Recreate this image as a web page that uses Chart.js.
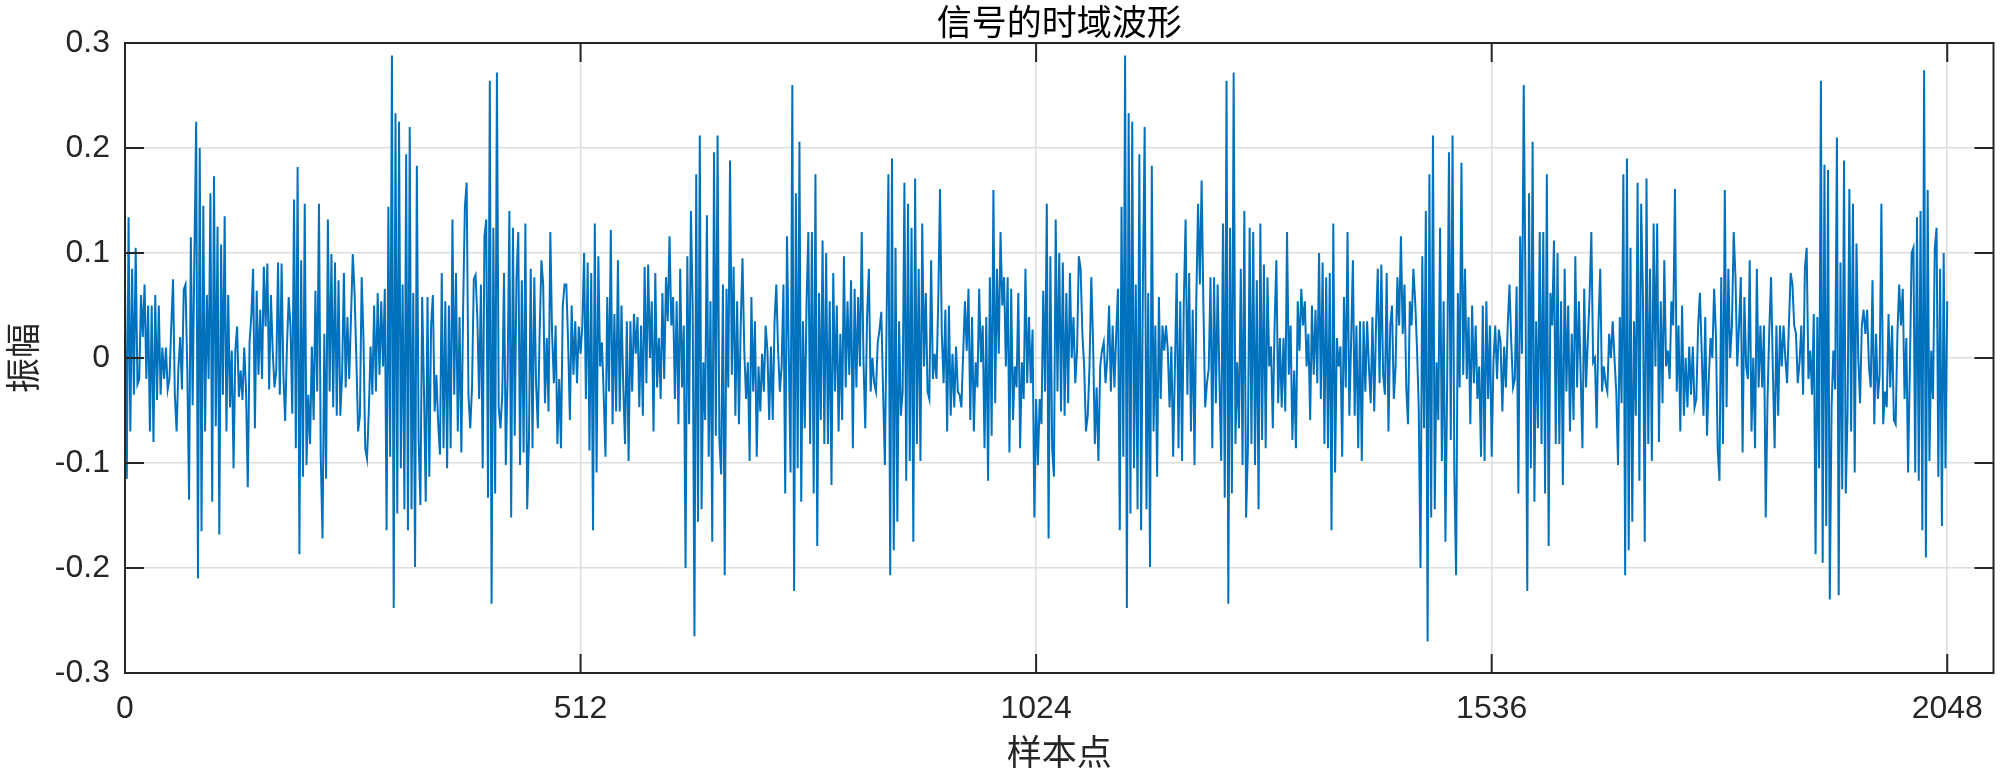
<!DOCTYPE html>
<html>
<head>
<meta charset="utf-8">
<script src="https://cdn.jsdelivr.net/npm/chart.js@4.4.0/dist/chart.umd.min.js"></script>
<style>
  html, body { margin: 0; padding: 0; background: #fff; }
  canvas { display: block; }
</style>
</head>
<body>
<canvas id="chart" width="2000" height="780"></canvas>
<script>
// 文本
const chartTitle = '信号的时域波形';
const xLabel = '样本点';
const yLabel = '振幅';

// 坐标轴
const xTicks = [0, 512, 1024, 1536, 2048];
const yTicks = [-0.3, -0.2, -0.1, 0, 0.1, 0.2, 0.3];
const xMax = 2100;

// 振幅 (每 2 个样本点读一个值)
const sampleStep = 2;
const amplitude = [
  .07,-.115,.134,-.07,.085,-.035,.105,-.025,-.02,.06,
  .02,.07,-.02,.05,-.07,.05,-.08,.06,-.04,.05,
  -.035,.01,-.02,.01,-.03,-.02,.03,.075,-.035,-.07,
  -.01,.02,-.03,.065,.07,-.01,-.135,.115,-.045,.1,
  .225,-.21,.2,-.165,.145,-.07,.06,-.02,.157,-.137,
  .173,-.065,.125,-.168,.108,-.035,.135,-.07,.06,-.047,
  .007,-.105,.007,.03,-.037,-.012,-.04,.01,-.03,-.123,
  .015,.04,.085,-.067,.064,-.016,.046,-.02,.087,.03,
  .09,-.03,.06,
  .007,-.028,-.012,.091,-.035,.09,-.016,-.06,.011,.058,
  .03,-.053,.151,-.086,.182,-.187,.093,-.113,.147,-.102,
  -.035,-.082,.011,-.059,.064,-.032,.147,-.094,-.172,.023,
  -.115,.132,-.032,.099,-.047,.091,-.055,.074,-.055,-.016,
  .081,-.028,.039,-.02,.039,.099,.062,0,-.07,-.055,
  .077,.019,-.086,-.096,-.051,.011,-.035,.05,-.032,.062,
  -.016,.054,-.008,.066,-.164,.144,-.094,.288,-.238,.233,
  -.148,.225,-.105,.07,-.144,.194,-.164,.22,-.144,.062,
  -.199,.183,-.078,-.14,.058,-.03,
  -.137,.058,-.113,.031,.06,-.051,-.016,-.063,-.092,.081,
  -.086,.054,-.105,.05,-.086,.132,-.035,.081,-.07,.039,
  -.09,.046,.144,.167,-.035,-.067,-.028,.075,.079,.039,
  -.039,.07,-.105,.116,.132,-.133,.264,-.234,.124,-.129,
  .272,-.047,-.067,-.035,.081,-.102,-.016,.14,-.152,.124,
  -.074,.077,.12,-.102,.074,-.09,.128,-.144,-.078,.085,
  -.086,.077,-.024,-.067,.023,.093,.07,-.043,.019,-.051,
  .12,.023,-.024,.031,-.082,-.02,-.086,.05,.07,.07,
  .015,-.059,.05,-.016,.035,-.024,.03,
  .004,.031,.1,-.039,.091,-.088,.081,-.164,.128,-.109,
  .097,-.008,.015,-.035,-.094,.058,-.032,.122,-.063,.042,
  -.051,.093,-.051,.05,-.028,-.082,.035,-.098,.035,-.032,
  .042,.004,.039,-.047,.031,-.055,.087,-.024,.089,0,
  .054,-.07,.081,-.028,.019,-.039,.062,-.02,.077,.035,
  .116,.031,.058,-.039,.054,-.063,.085,-.028,.031,-.2,
  .097,-.063,.14,.05,-.265,.175,-.156,.212,-.144,-.004,
  -.059,.136,-.094,.054,-.175,.196,-.074,.212,-.078,-.111,
  .07,-.207,.066,-.028,.188,-.016,
  .087,-.055,.054,-.063,.031,.095,.007,-.039,-.004,-.098,
  .058,-.032,.035,-.094,-.008,-.051,.004,-.032,.031,.007,
  -.059,.011,-.059,.035,.07,.007,-.032,-.008,.07,-.129,
  .116,.004,-.109,.26,-.222,.157,-.105,.206,-.137,.035,
  -.067,.054,.12,-.082,.12,-.129,.175,-.179,.062,-.059,
  .112,-.082,.1,-.082,.054,-.121,.081,-.032,.05,-.07,
  .023,-.059,.097,-.028,.054,-.016,.074,-.086,.066,-.028,
  .058,-.008,.12,-.004,-.067,.039,.085,-.032,0,-.024,
  -.032,.015,.027,.044,-.032,-.102,.039,
  .175,-.207,.19,-.183,.105,-.156,.035,-.055,-.032,.167,
  -.117,.147,-.098,.124,-.175,.171,-.082,.085,-.098,.128,
  -.008,.062,-.032,-.039,.093,-.02,.004,-.02,.054,.161,
  .023,-.024,.046,-.07,.05,-.055,.004,-.047,.011,-.032,
  -.035,-.047,.004,.054,.007,.066,-.059,.039,-.07,-.004,
  -.028,.066,-.004,.031,-.086,.039,-.117,.077,-.074,.16,
  -.043,.085,.004,.12,.05,.077,-.008,.077,-.09,.066,
  -.059,-.008,-.028,.062,-.086,-.004,-.039,.085,-.024,.039,
  -.024,.027,-.152,-.039,-.102,-.039,
  -.063,.064,-.032,.147,-.172,.097,-.086,-.113,.132,-.032,
  .1,-.051,.091,-.055,.062,-.043,.081,0,.039,-.024,
  .007,.097,.085,.023,-.008,-.07,-.055,-.008,.077,.015,
  -.082,-.028,-.098,-.008,.007,.015,-.024,0,.05,-.032,
  .031,-.028,.023,.066,-.164,.144,-.094,.288,-.238,.233,
  -.148,.225,-.105,.07,-.144,.194,-.164,.07,.22,-.144,
  .062,-.199,.183,-.07,.031,-.113,.058,-.039,.031,.007,
  .031,.007,-.047,.011,-.094,-.008,.081,-.086,.054,-.098,
  .054,.132,-.035,.081,-.07,.046,-.102,
  .054,.147,.07,.169,.05,-.047,-.024,-.01,.077,-.086,
  .077,-.043,.07,-.02,-.098,.128,-.133,.264,-.234,.124,
  -.129,.272,-.082,-.004,-.067,.085,-.102,.14,-.152,-.086,
  .124,-.082,.12,-.102,.074,-.144,.128,-.078,.089,-.086,
  .077,-.008,.011,-.067,.031,.093,-.043,.019,-.047,.019,
  -.051,.12,-.016,.031,-.078,-.012,-.086,.054,.007,.066,
  .031,.054,-.008,.023,-.059,.05,-.016,.046,-.024,.1,
  -.039,.091,-.082,.077,-.086,.081,-.164,.128,-.109,.019,
  -.008,.011,-.094,.058,-.028,.12,
  -.055,.015,.093,-.055,.031,-.086,.035,-.098,.035,-.032,
  .035,-.008,-.043,.039,-.051,.031,.085,-.024,.089,-.016,
  -.035,.081,-.07,.031,.05,-.039,-.008,.077,.031,.116,
  .023,.07,-.028,-.063,.054,.031,.085,.054,.011,
  -.047,-.2,.097,-.067,.14,-.27,.175,-.152,.212,-.144,
  -.004,-.059,.124,-.098,.054,-.175,-.02,.196,-.078,.212,
  -.109,-.207,.062,-.028,.186,-.016,.085,-.02,.039,-.063,
  .05,-.024,.031,-.039,-.008,-.094,.05,-.098,.054,-.039,
  .031,-.094,-.004,.031,-.02,.027,.015,-.051,
  .011,-.028,.031,.07,.015,-.028,-.02,.068,-.129,.116,
  .004,.26,.062,-.222,.157,-.105,.206,-.137,.035,-.067,
  .12,-.082,.12,-.129,.175,-.179,.062,.031,.112,-.082,
  .1,-.082,.054,-.121,.085,-.032,.05,-.07,.023,-.059,
  .097,-.028,.054,-.016,-.086,.066,-.028,.015,.058,.12,
  -.004,0,-.067,.031,.085,-.032,-.008,-.024,-.032,.023,
  0,.035,0,-.032,-.102,.039,-.043,.175,-.207,.19,
  -.183,.105,-.156,.035,-.055,.167,-.117,.147,.06,-.175,
  .171,-.082,.085,-.098,.128,-.008,
  .128,-.08,.054,-.043,.093,-.008,.007,-.02,.054,.031,
  .161,-.032,.031,-.07,.05,-.055,0,-.047,.011,-.035,
  .011,-.047,-.039,.03,.062,.007,-.055,.039,-.074,-.02,
  .019,0,.066,.023,-.086,-.117,.077,-.082,.16,-.047,
  .085,0,.031,.12,.077,-.008,.031,.077,-.09,.058,
  -.008,-.02,.093,-.07,0,-.086,.085,-.028,.031,-.028,
  .031,-.152,-.039,.027,.077,-.012,-.086,.031,-.055,.031,
  -.008,.031,0,-.024,.031,.081,.07,.031,.023,-.024,
  -.004,.031,-.035,.085,.105,-.02,.007,
  -.035,.042,-.187,.039,-.105,.264,-.195,.184,-.16,.179,
  -.23,-.047,.007,-.03,.21,-.226,.091,-.125,.188,-.129,
  -.05,.161,-.07,.147,-.109,.109,0,-.043,.031,.046,
  .023,.046,-.008,-.028,.074,-.063,.023,-.039,-.016,.147,
  -.063,-.032,-.047,.042,-.028,.031,-.059,-.063,.023,.07,
  .031,.066,-.039,.019,-.109,-.008,.1,.105,-.109,.134,
  -.117,.14,-.164,.274,-.19,.16,-.098,.007,-.039,.105,
  .124,-.113,.085,-.16,.1,-.105,.054
];

const axisColor = '#262626';
const tickLen = 19;
const tickFont = { family: '"Liberation Sans", Arial, sans-serif', size: 32 };
const cjkFont = { family: '"Noto Sans CJK SC", sans-serif', size: 35, weight: 'normal' };

const points = amplitude.map((v, i) => ({ x: i * sampleStep, y: v }));

// MATLAB 风格: 外框 + 朝内的刻度线
const boxPlugin = {
  id: 'boxTicks',
  afterDatasetsDraw(chart) {
    const { ctx, chartArea: a, scales: { x, y } } = chart;
    ctx.save();
    ctx.strokeStyle = axisColor;
    ctx.lineWidth = 2;
    ctx.beginPath();
    xTicks.forEach(t => {
      const px = x.getPixelForValue(t);
      ctx.moveTo(px, a.bottom); ctx.lineTo(px, a.bottom - tickLen);
      ctx.moveTo(px, a.top); ctx.lineTo(px, a.top + tickLen);
    });
    yTicks.forEach(t => {
      const py = y.getPixelForValue(t);
      ctx.moveTo(a.left, py); ctx.lineTo(a.left + tickLen, py);
      ctx.moveTo(a.right, py); ctx.lineTo(a.right - tickLen, py);
    });
    ctx.stroke();
    ctx.strokeRect(a.left, a.top, a.right - a.left, a.bottom - a.top);
    ctx.restore();
  }
};

new Chart(document.getElementById('chart'), {
  type: 'line',
  data: {
    datasets: [{
      data: points,
      borderColor: '#0072BD',
      borderWidth: 2,
      pointRadius: 0,
      tension: 0,
      fill: false
    }]
  },
  options: {
    responsive: false,
    animation: false,
    devicePixelRatio: 1,
    layout: { padding: { left: 0, right: 5, top: 0, bottom: 0 } },
    plugins: {
      legend: { display: false },
      tooltip: { enabled: false },
      title: {
        display: true,
        text: chartTitle,
        fullSize: false,
        color: '#000',
        font: cjkFont,
        padding: { top: 1, bottom: 0 }
      }
    },
    scales: {
      x: {
        type: 'linear',
        min: 0,
        max: xMax,
        afterBuildTicks: s => { s.ticks = xTicks.map(v => ({ value: v })); },
        afterFit: s => { s.height = 107; },
        ticks: {
          font: tickFont,
          color: axisColor,
          padding: 17,
          maxRotation: 0,
          autoSkip: false,
          callback: v => String(v)
        },
        grid: { color: '#dedede', lineWidth: 1.5, drawTicks: false },
        border: { display: false },
        title: { display: true, text: xLabel, font: cjkFont, color: axisColor, padding: { top: 0, bottom: 7 } }
      },
      y: {
        min: -0.3,
        max: 0.3,
        afterBuildTicks: s => { s.ticks = yTicks.map(v => ({ value: v })); },
        afterFit: s => { s.width = 125; },
        ticks: {
          font: tickFont,
          color: axisColor,
          padding: 15,
          callback: v => String(Math.round(v * 10) / 10)
        },
        grid: { color: '#dedede', lineWidth: 1.5, drawTicks: false },
        border: { display: false },
        title: { display: true, text: yLabel, font: cjkFont, color: axisColor, padding: { top: 2, bottom: 0 } }
      }
    }
  },
  plugins: [boxPlugin]
});
</script>
</body>
</html>
